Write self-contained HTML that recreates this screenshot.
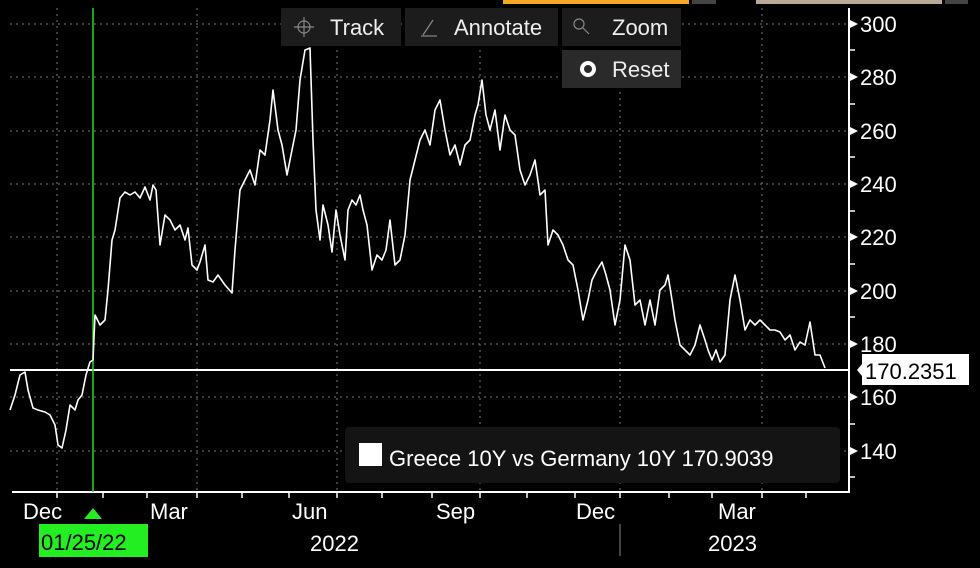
<!DOCTYPE html>
<html><head><meta charset="utf-8"><style>
html,body{margin:0;padding:0;background:#000;}
svg{display:block}
text{font-family:"Liberation Sans Narrow","Liberation Sans",sans-serif;}
</style></head><body>
<svg width="980" height="568" viewBox="0 0 980 568" xmlns="http://www.w3.org/2000/svg">
<rect width="980" height="568" fill="#000"/>
<rect x="503" y="0" width="186" height="4" fill="#f5a623"/>
<rect x="692" y="0" width="24" height="4" fill="#444"/>
<rect x="756" y="0" width="186" height="4" fill="#b8a898"/>
<rect x="945" y="0" width="23" height="4" fill="#444"/>
<g stroke="#777" stroke-width="1" stroke-dasharray="2,4">
<line x1="10" y1="24" x2="848" y2="24"/>
<line x1="10" y1="77" x2="848" y2="77"/>
<line x1="10" y1="131" x2="848" y2="131"/>
<line x1="10" y1="184" x2="848" y2="184"/>
<line x1="10" y1="237" x2="848" y2="237"/>
<line x1="10" y1="291" x2="848" y2="291"/>
<line x1="10" y1="344" x2="848" y2="344"/>
<line x1="10" y1="397" x2="848" y2="397"/>
<line x1="10" y1="451" x2="848" y2="451"/>
<line x1="57" y1="8" x2="57" y2="492"/>
<line x1="197" y1="8" x2="197" y2="492"/>
<line x1="337" y1="8" x2="337" y2="492"/>
<line x1="480" y1="8" x2="480" y2="492"/>
<line x1="620" y1="8" x2="620" y2="492"/>
<line x1="762" y1="8" x2="762" y2="492"/>
</g>
<line x1="12" y1="492" x2="849" y2="492" stroke="#fff" stroke-width="2"/>
<line x1="849" y1="8" x2="849" y2="493" stroke="#fff" stroke-width="2"/>
<g stroke="#fff" stroke-width="1.5">
<line x1="57" y1="492" x2="57" y2="498"/><line x1="103" y1="492" x2="103" y2="498"/><line x1="147" y1="492" x2="147" y2="498"/><line x1="197" y1="492" x2="197" y2="498"/><line x1="242" y1="492" x2="242" y2="498"/><line x1="289" y1="492" x2="289" y2="498"/><line x1="337" y1="492" x2="337" y2="498"/><line x1="382" y1="492" x2="382" y2="498"/><line x1="432" y1="492" x2="432" y2="498"/><line x1="480" y1="492" x2="480" y2="498"/><line x1="527" y1="492" x2="527" y2="498"/><line x1="575" y1="492" x2="575" y2="498"/><line x1="620" y1="492" x2="620" y2="498"/><line x1="669" y1="492" x2="669" y2="498"/><line x1="712" y1="492" x2="712" y2="498"/><line x1="762" y1="492" x2="762" y2="498"/><line x1="806" y1="492" x2="806" y2="498"/>
<line x1="849" y1="50" x2="855" y2="50"/><line x1="849" y1="104" x2="855" y2="104"/><line x1="849" y1="157" x2="855" y2="157"/><line x1="849" y1="211" x2="855" y2="211"/><line x1="849" y1="264" x2="855" y2="264"/><line x1="849" y1="317" x2="855" y2="317"/><line x1="849" y1="424" x2="855" y2="424"/><line x1="849" y1="477" x2="855" y2="477"/>
</g>
<g fill="#fff">
<polygon points="850,20 858,24 850,28"/><polygon points="850,73 858,77 850,81"/><polygon points="850,127 858,131 850,135"/><polygon points="850,180 858,184 850,188"/><polygon points="850,233 858,237 850,241"/><polygon points="850,287 858,291 850,295"/><polygon points="850,340 858,344 850,348"/><polygon points="850,393 858,397 850,401"/><polygon points="850,447 858,451 850,455"/>
</g>
<g fill="#fff" font-size="22">
<text x="860" y="32">300</text><text x="860" y="85">280</text><text x="860" y="139">260</text><text x="860" y="192">240</text><text x="860" y="245">220</text><text x="860" y="299">200</text><text x="860" y="352">180</text><text x="860" y="405">160</text><text x="860" y="459">140</text>
</g>
<line x1="10" y1="370" x2="849" y2="370" stroke="#fff" stroke-width="2"/>
<polygon points="857,370 862,364 862,376" fill="#fff"/>
<rect x="862" y="354" width="107" height="31" fill="#fff"/>
<text x="865" y="379" font-size="22" fill="#000">170.2351</text>
<line x1="93" y1="8" x2="93" y2="492" stroke="#22dd22" stroke-width="1.5"/>
<polygon points="93,508 102,519 84,519" fill="#22ee22"/>
<rect x="39" y="524" width="109" height="33" fill="#22ee22"/>
<text x="41" y="550" font-size="22" fill="#000">01/25/22</text>
<g fill="#fff" font-size="22">
<text x="23" y="519">Dec</text><text x="150" y="519">Mar</text><text x="292" y="519">Jun</text><text x="436" y="519">Sep</text><text x="576" y="519">Dec</text><text x="718" y="519">Mar</text>
<text x="310" y="551">2022</text><text x="708" y="551">2023</text>
</g>
<line x1="620" y1="524" x2="620" y2="556" stroke="#888" stroke-width="1"/>
<polyline fill="none" stroke="#fff" stroke-width="1.6" stroke-linejoin="round" points="10,410 15,395 20,375 25,372 28,390 33,408 38,410 45,412 50,415 55,425 58,445 62,448 66,430 70,405 75,410 78,400 82,395 86,375 90,362 93,360 95,315 100,325 105,320 108,290 112,240 115,230 120,198 125,192 130,195 135,192 140,198 145,187 150,200 153,185 156,190 160,245 165,215 170,220 175,230 180,225 185,240 188,228 192,265 197,270 200,262 205,245 208,280 213,282 218,275 225,285 232,293 235,250 240,190 245,180 250,170 255,185 260,150 265,155 270,120 273,90 278,130 282,145 287,175 292,150 296,130 300,80 305,50 310,48 313,140 316,210 320,240 323,205 328,225 332,252 336,210 340,235 345,260 348,210 352,200 356,205 360,195 363,210 367,225 372,270 377,255 382,260 386,250 390,220 395,265 400,260 405,235 410,180 415,160 420,140 425,130 430,145 435,110 440,100 445,130 450,155 455,145 460,165 465,145 470,140 475,115 478,105 482,80 486,115 490,130 495,110 500,150 505,115 510,130 515,135 520,170 525,185 530,175 535,160 540,195 545,190 548,245 553,230 558,235 563,245 568,260 573,265 578,290 583,320 588,300 592,280 597,270 602,262 606,275 610,290 615,325 620,300 625,245 630,260 635,305 640,300 645,325 650,300 655,325 660,290 665,285 668,275 672,300 675,320 680,345 685,350 690,355 695,345 700,325 705,340 708,350 712,360 716,350 720,362 725,355 730,300 735,275 740,300 745,330 750,320 755,325 760,320 765,325 770,330 775,330 780,332 785,340 790,335 795,350 800,342 805,345 810,322 815,355 820,355 825,368"/>
<rect x="345" y="427" width="495" height="56" rx="4" fill="#141414"/>
<rect x="359" y="443" width="23" height="23" fill="#fff"/>
<text x="389" y="466" font-size="22" fill="#fff">Greece 10Y vs Germany 10Y 170.9039</text>
<rect x="281" y="8" width="120" height="38" fill="#1c1c1c"/>
<rect x="405" y="8" width="153" height="38" fill="#1c1c1c"/>
<rect x="562" y="8" width="119" height="38" fill="#1c1c1c"/>
<rect x="562" y="50" width="119" height="38" fill="#2a2a2a"/>
<g stroke="#888" stroke-width="1.2" fill="none">
<circle cx="304" cy="27" r="6"/><line x1="304" y1="17" x2="304" y2="37"/><line x1="294" y1="27" x2="314" y2="27"/>
<line x1="423" y1="35" x2="433" y2="20"/><line x1="421" y1="36" x2="437" y2="36"/>
<circle cx="579" cy="24" r="5"/><line x1="583" y1="28" x2="589" y2="34"/>
</g>
<circle cx="588" cy="69" r="6" fill="none" stroke="#fff" stroke-width="4"/>
<g fill="#eee" font-size="22">
<text x="330" y="35">Track</text><text x="454" y="35">Annotate</text><text x="612" y="35">Zoom</text><text x="612" y="77">Reset</text>
</g>
</svg>
</body></html>
